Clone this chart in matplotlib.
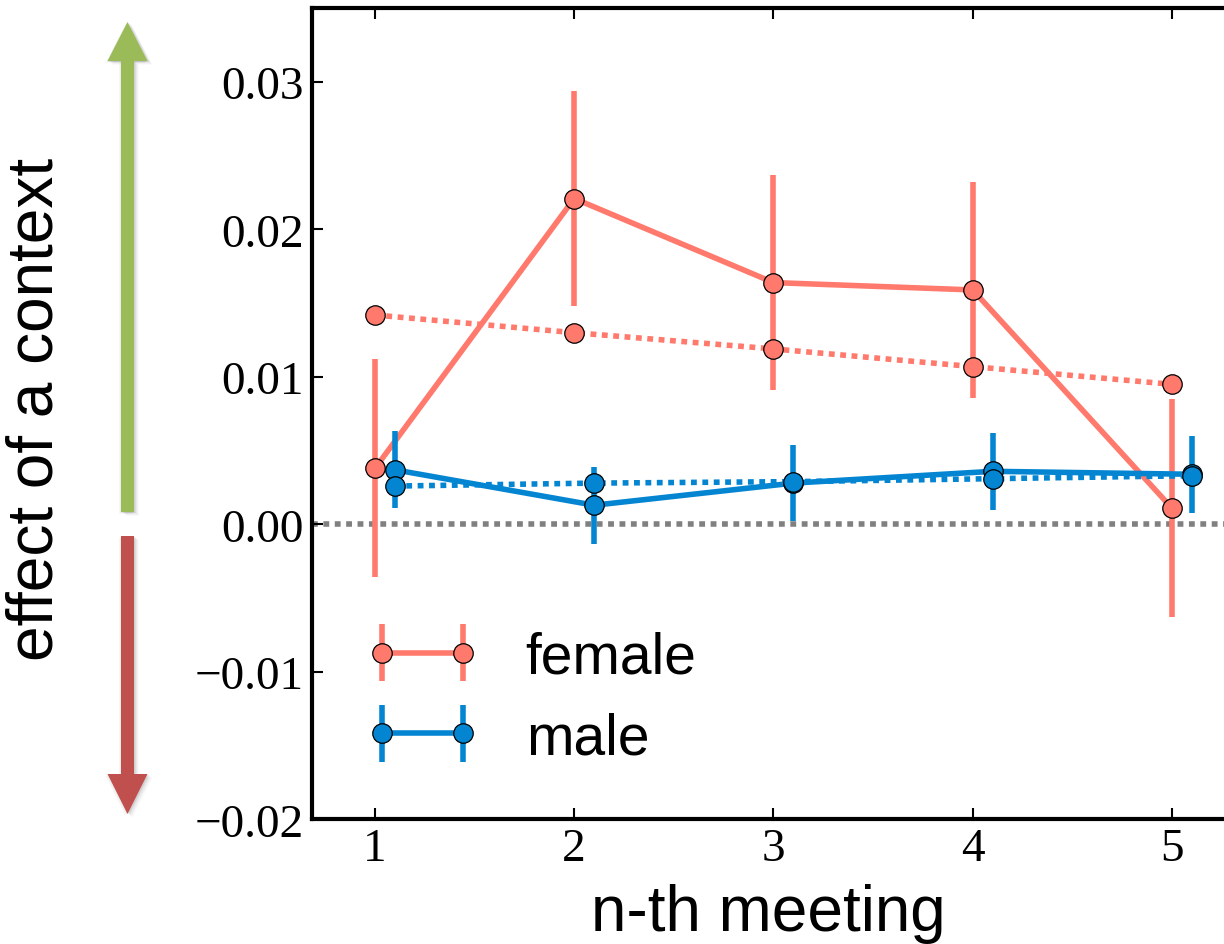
import numpy as np
import matplotlib
matplotlib.use("Agg")
import matplotlib.pyplot as plt
from matplotlib.patches import Polygon

# ---- data -------------------------------------------------------------
meetings = [1, 2, 3, 4, 5]

female_effect = [0.0038, 0.0221, 0.0164, 0.0159, 0.0011]
female_err = [0.0074, 0.0073, 0.0073, 0.0073, 0.0074]
female_trend = [0.0142, 0.0130, 0.0119, 0.0107, 0.0095]

male_effect = [0.0037, 0.0013, 0.0028, 0.0036, 0.0034]
male_err = [0.0026, 0.0026, 0.0026, 0.0026, 0.0026]
male_trend = [0.0026, 0.0028, 0.0029, 0.0031, 0.0033]

series_labels = ["female", "male"]
x_ticks = [1, 2, 3, 4, 5]
y_ticks = [-0.02, -0.01, 0.00, 0.01, 0.02, 0.03]

# ---- style ------------------------------------------------------------
FEMALE = "#ff796c"
MALE = "#0485d1"
LW = 4.0
MS = 14
DOT = (0, (1.05, 1.0))
male_shift = 0.1

W, H = 1224, 945
fig = plt.figure(figsize=(W / 100, H / 100), dpi=100)
ax = fig.add_axes([312 / W, 1 - 820.3 / H, 939.7 / W, 811 / H])

ax.axhline(0, color="#808080", lw=LW, ls=DOT, zorder=1)

fx = np.array(meetings, dtype=float)
mx = fx + male_shift

f_cont = ax.errorbar(fx, female_effect, yerr=female_err, color=FEMALE, lw=LW,
                     elinewidth=LW, capsize=0, marker="o", ms=MS,
                     mfc=FEMALE, mec="black", mew=0.9, zorder=3)
ax.plot(fx, female_trend, color=FEMALE, lw=LW, ls=DOT, marker="o", ms=MS,
        mfc=FEMALE, mec="black", mew=0.9, zorder=4)

m_cont = ax.errorbar(mx, male_effect, yerr=male_err, color=MALE, lw=LW,
                     elinewidth=LW, capsize=0, marker="o", ms=MS,
                     mfc=MALE, mec="black", mew=0.9, zorder=5)
ax.plot(mx, male_trend, color=MALE, lw=LW, ls=DOT, marker="o", ms=MS,
        mfc=MALE, mec="black", mew=0.9, zorder=6)

ax.set_xlim(0.684, 5.4)
ax.set_ylim(-0.02, 0.035)
ax.set_xticks(x_ticks)
ax.set_yticks(y_ticks)
ax.set_xticklabels([str(t) for t in x_ticks])
ax.set_yticklabels(["\u2212%.2f" % abs(v) if v < 0 else "%.2f" % v for v in y_ticks])

for s in ax.spines.values():
    s.set_linewidth(3)
ax.tick_params(direction="in", length=8, width=1.5, top=True, right=True,
               labelsize=34, pad=6)
for lab in ax.get_xticklabels() + ax.get_yticklabels():
    lab.set_fontfamily("Liberation Serif")

ax.set_xlabel("n-th meeting", fontsize=46, family="Liberation Sans")
ax.set_ylabel("effect of a context", fontsize=46, family="Liberation Sans")
ax.xaxis.set_label_coords((768 - 312) / 939.7, (820.3 - 884) / 811)
ax.yaxis.set_label_coords((66 - 312) / 939.7, (820.3 - 409) / 811)

leg = ax.legend([f_cont, m_cont], series_labels, numpoints=2, frameon=False,
                loc="upper left", bbox_to_anchor=(0.002, 0.296),
                prop={"family": "Liberation Sans", "size": 41},
                labelspacing=0.47, handletextpad=0.8, handlelength=2.02)

# ---- direction arrows beside the axis ---------------------------------
def arrow_poly(tip_y, base_y, tail_y, cx=127.5, shaft=13, head=40):
    pts = [(cx - shaft / 2, tail_y), (cx - shaft / 2, base_y),
           (cx - head / 2, base_y), (cx, tip_y), (cx + head / 2, base_y),
           (cx + shaft / 2, base_y), (cx + shaft / 2, tail_y)]
    return [(x / W, 1 - y / H) for x, y in pts]

def draw_arrow(tip_y, base_y, tail_y, color):
    # soft shadow halo
    for dx, dy, a in [(3, 2, 0.04), (2, 1, 0.05), (4, 3, 0.03), (1, 1, 0.05),
                      (-1, 1, 0.04), (-2, 2, 0.03), (5, 4, 0.02)]:
        pts = arrow_poly(tip_y + dy, base_y + dy, tail_y + dy, cx=127.5 + dx)
        fig.patches.append(Polygon(pts, closed=True, transform=fig.transFigure,
                                   facecolor="black", edgecolor="none",
                                   alpha=a, zorder=0))
    fig.patches.append(Polygon(arrow_poly(tip_y, base_y, tail_y),
                               closed=True, transform=fig.transFigure,
                               facecolor=color, edgecolor="none", zorder=1))

draw_arrow(23, 62, 513, "#9bbb59")
draw_arrow(815, 775, 537, "#c0504d")

fig.savefig("out.png", dpi=100)
